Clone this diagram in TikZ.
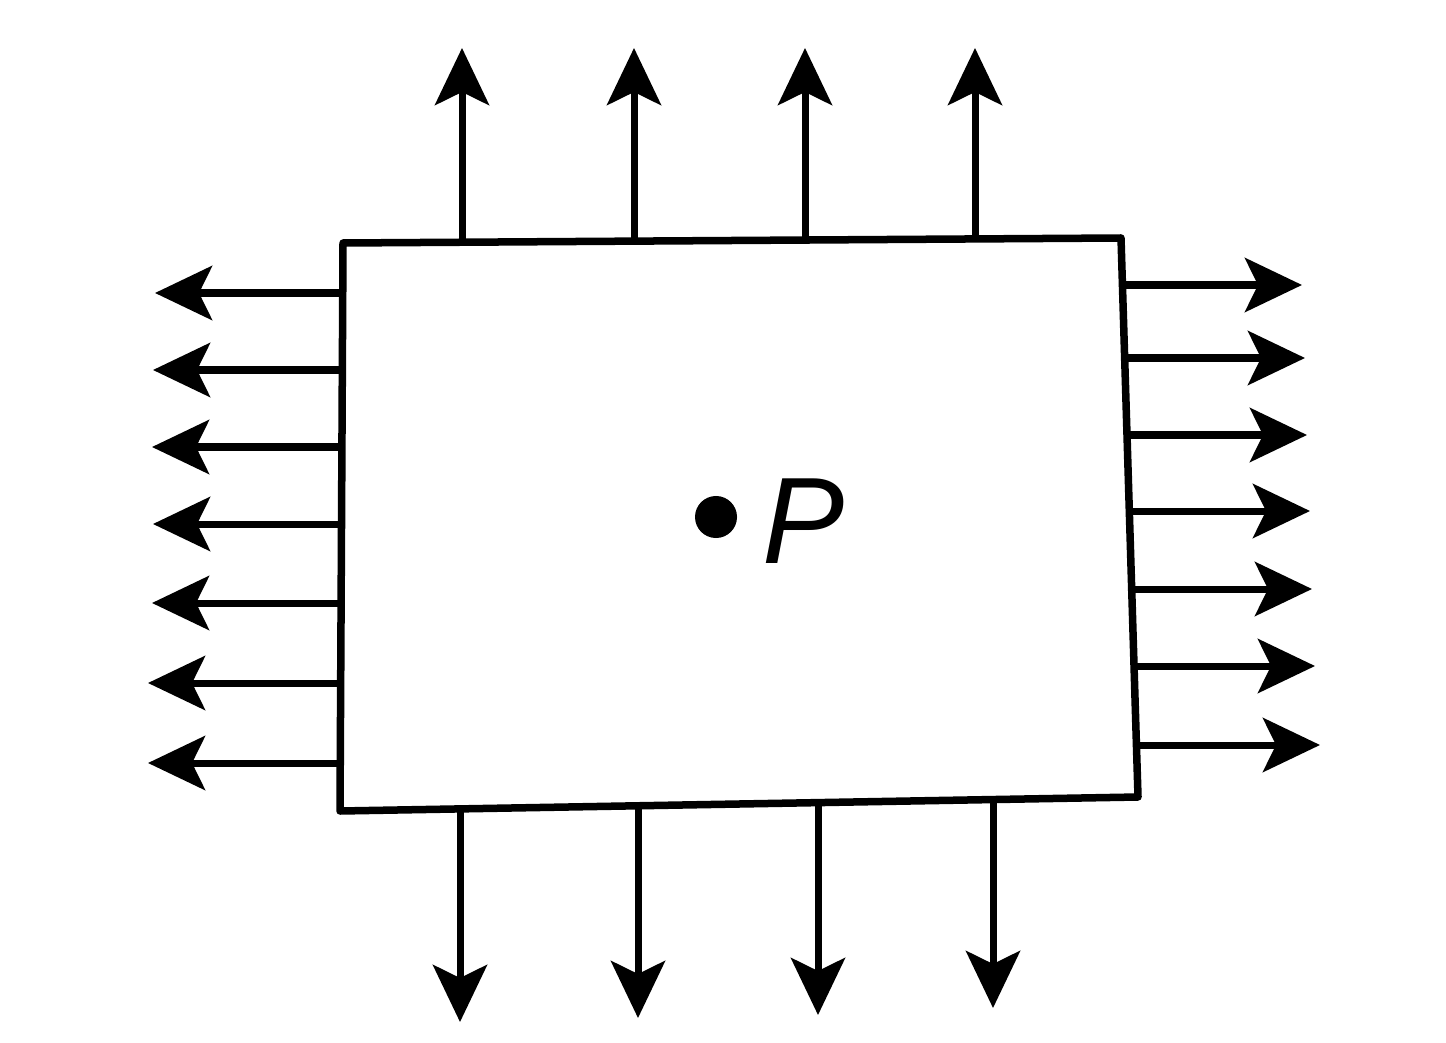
\documentclass[tikz,border=0pt]{standalone}
\usepackage{fontspec}
\setmainfont{Liberation Sans}
\usetikzlibrary{arrows.meta}
\begin{document}
\begin{tikzpicture}[x=0.01cm,y=-0.01cm,
  edge/.style={line width=0.075cm,line join=round},
  fieldarrow/.style={line width=0.07cm,-{Stealth[length=0.57cm,width=0.54cm,inset=0.13cm]}}]
\useasboundingbox (0,0) rectangle (1446,1043);
% rectangle corners
\coordinate (TL) at (343,243);
\coordinate (TR) at (1121,238);
\coordinate (BR) at (1138,797);
\coordinate (BL) at (340,811);
\draw[edge] (TL) -- (TR) -- (BR) -- (BL) -- cycle;
% top arrows
\foreach \x/\t/\s [count=\i] in {462/48/242,634/48/241,805/48/240,975/48/239}{
  \coordinate (ts\i) at (\x,\s);
  \coordinate (te\i) at (\x,\t);
  \draw[fieldarrow] (ts\i) -- (te\i);
}
% bottom arrows
\foreach \x/\t/\s [count=\i] in {460/1022/809,638/1018/806,818/1015/803,993/1008/800}{
  \coordinate (bs\i) at (\x,\s);
  \coordinate (be\i) at (\x,\t);
  \draw[fieldarrow] (bs\i) -- (be\i);
}
% left arrows
\foreach \y/\t [count=\i] in {293/155,370/153,447/152,524/153,603/152,683/148,763/148}{
  \coordinate (ls\i) at (341,\y);
  \coordinate (le\i) at (\t,\y);
  \draw[fieldarrow] (ls\i) -- (le\i);
}
% right arrows
\foreach \y/\t/\s [count=\i] in {285/1302/1122,358/1305/1124,435/1307/1127,511/1310/1129,589/1312/1132,666/1315/1134,745/1320/1137}{
  \coordinate (rs\i) at (\s,\y);
  \coordinate (re\i) at (\t,\y);
  \draw[fieldarrow] (rs\i) -- (re\i);
}
% point P
\node[circle,fill=black,inner sep=0pt,minimum size=0.42cm] (dot) at (716,517) {};
\node[font=\fontsize{35}{40}\selectfont\itshape,inner sep=0pt] (P) at (804,521) {P};
\end{tikzpicture}
\end{document}
